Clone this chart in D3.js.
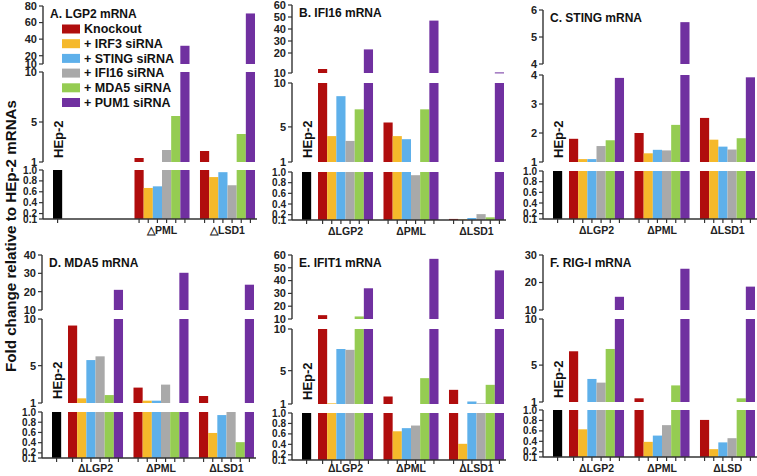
<!DOCTYPE html>
<html>
<head>
<meta charset="utf-8">
<script src="https://cdn.jsdelivr.net/npm/d3@7"></script>
<style>
body { margin: 0; background: #fff; }
text { font-family: "Liberation Sans", Arial, sans-serif; font-weight: bold; }
</style>
</head>
<body>
<script>
// series / colours
const series = ["Knockout", "+ IRF3 siRNA", "+ STING siRNA", "+ IFI16 siRNA", "+ MDA5 siRNA", "+ PUM1 siRNA"];
const colors = ["#b00d0d", "#f5b92b", "#5eb0ea", "#a9a9a9", "#95cc52", "#7030a0"];

const titles = ["A. LGP2 mRNA", "B. IFI16 mRNA", "C. STING mRNA", "D. MDA5 mRNA", "E. IFIT1 mRNA", "F. RIG-I mRNA"];
const groupNames = [
  ["", "\u25B3PML", "\u25B3LSD1"],
  ["\u0394LGP2", "\u0394PML", "\u0394LSD1"],
  ["\u0394LGP2", "\u0394PML", "\u0394LSD1"],
  ["\u0394LGP2", "\u0394PML", "\u0394LSD1"],
  ["\u0394LGP2", "\u0394PML", "\u0394LSD1"],
  ["\u0394LGP2", "\u0394PML", "\u0394LSD"]
];
const hep2 = 1;

// fold change, one row per knockout, one value per series
const lgp2  = [[], [1.4, 0.67, 0.7, 2.2, 5.6, 32], [2.1, 0.87, 0.96, 0.72, 3.8, 71]];
const ifi16 = [[12, 3.95, 8.5, 3.4, 7, 23], [5.5, 3.95, 3.6, 0.94, 7, 47], [0.12, 0.11, 0.1, 0.21, 0.15, 10.3]];
const sting = [[1.8, 1.1, 1.1, 1.55, 1.75, 3.9], [2.0, 1.3, 1.42, 1.4, 2.28, 5.55], [2.52, 1.77, 1.53, 1.43, 1.82, 3.92]];
const mda5  = [[9.3, 1.5, 5.6, 6.0, 1.85, 21], [2.65, 1.25, 1.25, 2.97, 1.0, 30.3], [1.75, 0.59, 0.94, 1.0, 0.41, 23.8]];
const ifit1 = [[13, 1.08, 7.6, 7.5, 12, 34], [1.9, 0.65, 0.71, 0.76, 4.1, 57], [2.7, 0.41, 1.3, 1.08, 3.3, 48]];
const rigi  = [[6.5, 0.63, 3.5, 3.1, 6.75, 14.8], [1.4, 0.39, 0.51, 0.71, 2.8, 25], [0.81, 0.25, 0.38, 0.46, 1.4, 18.5]];

const topTicks = [[10, 20, 40, 60, 80], [10, 20, 30, 40, 50, 60], [4, 5, 6], [10, 20, 30, 40], [10, 20, 30, 40, 50, 60], [10, 20, 30]];
const midTicks = [[1, 5, 10], [1, 5, 10], [1, 2, 3, 4], [1, 5, 10], [1, 5, 10], [1, 5, 10]];
const lowTicks = [0.1, 0.2, 0.4, 0.6, 0.8, 1.0];

const panelData = [lgp2, ifi16, sting, mda5, ifit1, rigi];

// broken axis layout for each panel (pixel ranges)
const layout = [
  {ax: 43,  top: [[10, 80], [64, 6]],          mid: [[1, 10], [162, 72]],  low: [219, 170]},
  {ax: 292, top: [[10, 20, 60], [73, 53, 5]],  mid: [[1, 10], [162, 83]],  low: [220, 172]},
  {ax: 543, top: [[4, 6], [64, 10]],           mid: [[1, 4], [162, 75]],   low: [219, 171]},
  {ax: 42,  top: [[10, 40], [310, 255]],       mid: [[1, 10], [403, 319]], low: [458, 412]},
  {ax: 292, top: [[10, 60], [319, 255]],       mid: [[1, 10], [404, 329]], low: [460, 413]},
  {ax: 543, top: [[10, 30], [310, 255]],       mid: [[1, 10], [402, 319]], low: [457, 410]}
];

const width = 757, height = 476;

let svg = d3.select("body").append("svg")
  .attr("width", width)
  .attr("height", height);

let fmtLow = d3.format(".1f");

layout.forEach(function(L, p) {
  let g = svg.append("g");
  let data = panelData[p];

  let yTop = d3.scaleLinear().domain(L.top[0]).range(L.top[1]);
  let yMid = d3.scaleLinear().domain(L.mid[0]).range(L.mid[1]);
  let yLow = d3.scaleLinear().domain([0.1, 1]).range(L.low);
  let midMax = L.mid[0][1];
  let topMin = L.top[0][0];

  let xg = d3.scaleBand().domain([0, 1, 2])
    .range([L.ax + 26, L.ax + 26 + 186]).paddingInner(0.16);
  let xs = d3.scaleBand().domain(series).range([0, xg.bandwidth()]);
  let bw = xs.bandwidth();

  // bars, split across the three axis segments
  function drawBar(x, v, color) {
    let lowTop = v <= 0.1 ? yLow(0.1) - 2 : yLow(Math.min(v, 1));
    g.append("rect").attr("x", x).attr("width", bw)
      .attr("y", lowTop).attr("height", yLow(0.1) - lowTop).attr("fill", color);
    if (v > 1) {
      let t = yMid(Math.min(v, midMax));
      g.append("rect").attr("x", x).attr("width", bw)
        .attr("y", t).attr("height", yMid(1) - t).attr("fill", color);
    }
    if (v > topMin) {
      let t = yTop(v);
      g.append("rect").attr("x", x).attr("width", bw)
        .attr("y", t).attr("height", Math.max(yTop(topMin) - t, 1)).attr("fill", color);
    }
  }

  let hepX = L.ax + 10;
  drawBar(hepX, hep2, "#000");

  let tickXs = [hepX + bw / 2];
  data.forEach(function(vals, gi) {
    vals.forEach(function(v, si) {
      let x = xg(gi) + xs(series[si]);
      drawBar(x, v, colors[si]);
      tickXs.push(x + bw / 2);
    });
  });

  // y axis segments
  function seg(scale, ticks, fmt, fs) {
    let r = scale.range();
    g.append("line")
      .attr("x1", L.ax).attr("x2", L.ax)
      .attr("y1", r[0]).attr("y2", r[r.length - 1])
      .attr("stroke", "#333").attr("stroke-width", 1.4);
    ticks.forEach(function(t) {
      g.append("line")
        .attr("x1", L.ax - 4).attr("x2", L.ax)
        .attr("y1", scale(t)).attr("y2", scale(t))
        .attr("stroke", "#333").attr("stroke-width", 1.2);
      g.append("text")
        .attr("x", L.ax - 6).attr("y", scale(t)).attr("dy", "0.35em")
        .attr("text-anchor", "end").attr("font-size", fs).attr("fill", "#222")
        .text(fmt(t));
    });
  }
  seg(yTop, topTicks[p], d3.format("d"), 11);
  seg(yMid, midTicks[p], d3.format("d"), 11);
  seg(yLow, lowTicks, fmtLow, 10);

  // x axis
  let base = yLow(0.1);
  g.append("line")
    .attr("x1", L.ax).attr("x2", L.ax + 214)
    .attr("y1", base).attr("y2", base)
    .attr("stroke", "#333").attr("stroke-width", 1.4);
  g.selectAll(".xt").data(tickXs).enter().append("line")
    .attr("x1", d => d).attr("x2", d => d)
    .attr("y1", base).attr("y2", base + 4)
    .attr("stroke", "#333").attr("stroke-width", 1.2);

  groupNames[p].forEach(function(name, gi) {
    g.append("text")
      .attr("x", xg(gi) + xg.bandwidth() / 2).attr("y", Math.min(base + 14.5, 472))
      .attr("text-anchor", "middle").attr("font-size", 10.5).attr("fill", "#222")
      .text(name);
  });

  // HEp-2 label
  let hx = hepX + bw / 2 + 5, hy = yMid(1) - 4;
  g.append("text")
    .attr("transform", "translate(" + hx + "," + hy + ") rotate(-90)")
    .attr("font-size", 13).attr("fill", "#111")
    .text("HEp-2");

  // title
  g.append("text")
    .attr("x", L.ax + 7).attr("y", yTop.range()[yTop.range().length - 1] + 12)
    .attr("font-size", 12).attr("fill", "#111")
    .text(titles[p]);
});

// legend (panel A)
let legend = svg.append("g");
series.forEach(function(s, i) {
  let cy = 29 + i * 14.7;
  legend.append("rect")
    .attr("x", 62).attr("y", cy - 4.5).attr("width", 18).attr("height", 9)
    .attr("fill", colors[i]);
  legend.append("text")
    .attr("x", 84).attr("y", cy).attr("dy", "0.35em")
    .attr("font-size", 12.5).attr("fill", "#111")
    .text(s);
});

// shared y label
svg.append("text")
  .attr("transform", "translate(16,236) rotate(-90)")
  .attr("text-anchor", "middle").attr("font-size", 14).attr("fill", "#111")
  .attr("textLength", 272).attr("lengthAdjust", "spacingAndGlyphs")
  .text("Fold change relative  to HEp-2 mRNAs");
</script>
</body>
</html>
